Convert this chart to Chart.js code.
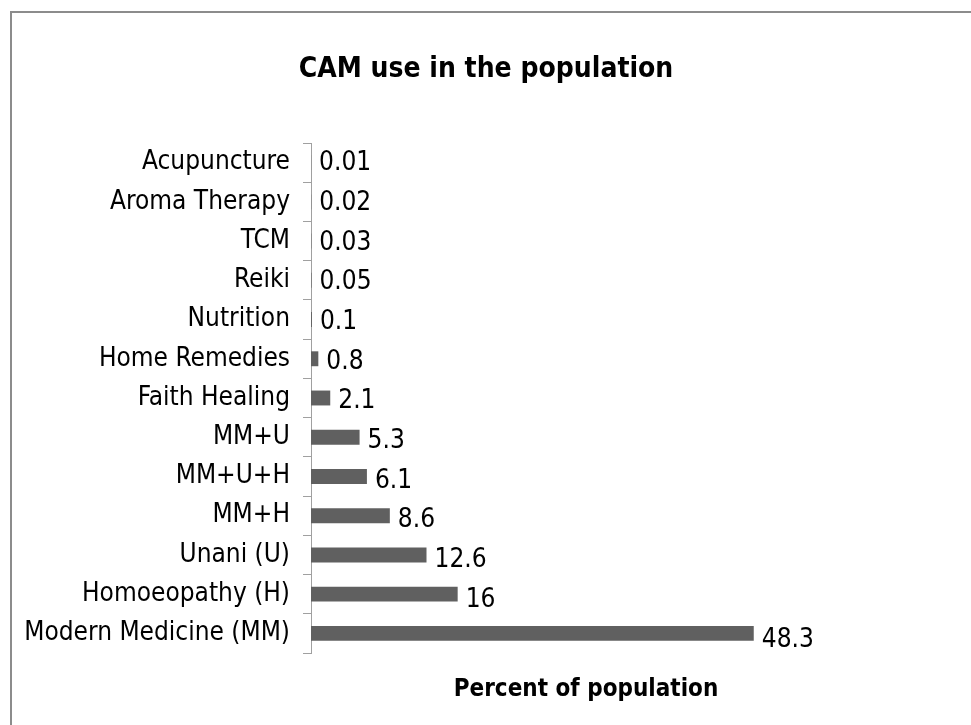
<!DOCTYPE html>
<html>
<head>
<meta charset="utf-8">
<script src="https://cdn.jsdelivr.net/npm/chart.js@4"></script>
<style>
  html, body { margin: 0; padding: 0; background: #fff; }
  #wrap { width: 971px; height: 725px; }
</style>
</head>
<body>
<div id="wrap"><canvas id="myChart" width="971" height="725"></canvas></div>
<script>
let categories = ['Acupuncture', 'Aroma Therapy', 'TCM', 'Reiki', 'Nutrition', 'Home Remedies', 'Faith Healing', 'MM+U', 'MM+U+H', 'MM+H', 'Unani (U)', 'Homoeopathy (H)', 'Modern Medicine (MM)']
let percentValues = [0.01, 0.02, 0.03, 0.05, 0.1, 0.8, 2.1, 5.3, 6.1, 8.6, 12.6, 16, 48.3]
let valueLabels = ['0.01', '0.02', '0.03', '0.05', '0.1', '0.8', '2.1', '5.3', '6.1', '8.6', '12.6', '16', '48.3']

let fontFamily = "'Liberation Sans Narrow', 'DejaVu Sans Condensed', 'Liberation Sans', sans-serif"
let axisGrey = '#a0a0a0'

// frame around the chart, only top and left edges show in the picture
let framePlugin = {
    id: 'frame',
    beforeDraw(chart) {
        let c = chart.ctx
        c.save()
        c.fillStyle = '#ffffff'
        c.fillRect(0, 0, chart.width, chart.height)
        c.strokeStyle = '#8c8c8c'
        c.lineWidth = 2
        c.beginPath()
        c.moveTo(11, chart.height)
        c.lineTo(11, 12)
        c.lineTo(chart.width, 12)
        c.stroke()
        c.restore()
    }
}

// value labels at the end of each bar
let valueLabelPlugin = {
    id: 'valueLabels',
    afterDatasetsDraw(chart) {
        let c = chart.ctx
        let meta = chart.getDatasetMeta(0)
        c.save()
        c.font = '26px ' + fontFamily
        c.fillStyle = '#000000'
        c.textAlign = 'left'
        c.textBaseline = 'middle'
        meta.data.forEach((bar, i) => {
            c.fillText(valueLabels[i], bar.x + 8, bar.y + 1 + i * 0.45)
        })
        c.restore()
    }
}

let ctx = document.getElementById('myChart').getContext('2d')

let myChart = new Chart(ctx, {
    type: 'bar',
    data: {
        labels: categories,
        datasets: [{
            data: percentValues,
            backgroundColor: '#606060',
            barPercentage: 0.38,
            categoryPercentage: 1.0,
        }],
    },
    plugins: [framePlugin, valueLabelPlugin],
    options: {
        indexAxis: 'y',
        responsive: false,
        animation: false,
        layout: {
            padding: { left: 20, right: 19, top: 0, bottom: 0 }
        },
        plugins: {
            legend: { display: false },
            tooltip: { enabled: false },
            title: {
                display: true,
                text: 'CAM use in the population',
                color: '#000000',
                font: { family: fontFamily, size: 28, weight: 'bold', lineHeight: 1.2 },
                padding: { top: 53, bottom: 56.4 }
            }
        },
        scales: {
            x: {
                min: 0,
                max: 60,
                grid: { display: false },
                border: { display: false },
                ticks: { display: false },
                title: {
                    display: true,
                    text: 'Percent of population',
                    color: '#000000',
                    font: { family: fontFamily, size: 24, weight: 'bold', lineHeight: 1.2 },
                    padding: { top: 0, bottom: 21 }
                },
                afterFit(scale) {
                    scale.height = 72
                }
            },
            y: {
                offset: true,
                grid: {
                    display: true,
                    offset: true,
                    drawOnChartArea: false,
                    drawTicks: true,
                    tickLength: 8,
                    color: axisGrey,
                },
                border: { display: true, color: axisGrey, width: 1 },
                ticks: {
                    autoSkip: false,
                    color: '#000000',
                    padding: 13,
                    font: { family: fontFamily, size: 26 }
                },
                afterFit(scale) {
                    scale.width = 291
                }
            },
            // empty space on the right of the plot area
            yRight: {
                position: 'right',
                grid: { display: false },
                border: { display: false },
                ticks: { display: false },
                afterFit(scale) {
                    scale.width = 91
                }
            }
        }
    }
})
</script>
</body>
</html>
